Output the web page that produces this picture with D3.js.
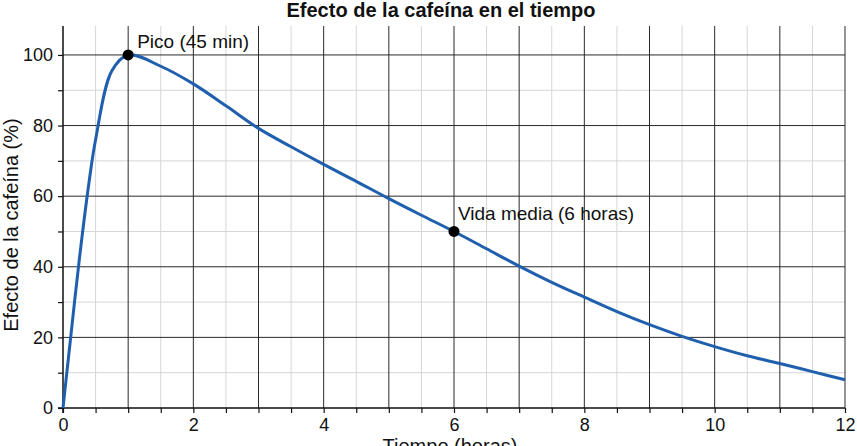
<!DOCTYPE html>
<html>
<head>
<meta charset="utf-8">
<script src="https://cdn.jsdelivr.net/npm/d3@7"></script>
<style>
  body { margin: 0; background: #fff; }
  text { font-family: "Liberation Sans", Arial, sans-serif; fill: #111; }
</style>
</head>
<body>
<svg id="chart" width="857" height="446"></svg>
<script>
// values
const hours  = [0, 0.1, 0.25, 0.4, 0.5, 0.75, 1, 1.5, 2, 2.5, 3, 3.5, 4, 4.5, 5, 5.5, 6, 6.5, 7, 7.5, 8, 8.5, 9, 9.5, 10, 10.5, 11, 11.5, 12];
const effect = [0, 17, 42, 64, 76, 95.5, 100, 96.8, 91.8, 85.6, 79.2, 74, 69, 64.2, 59.3, 54.6, 50, 45.1, 40.2, 35.6, 31.4, 27.3, 23.6, 20.3, 17.4, 14.8, 12.6, 10.3, 8];

const markerX = [1, 6];
const markerY = [100, 50];
const markerText = ["Pico (45 min)", "Vida media (6 horas)"];

const xTickLabels = [0, 2, 4, 6, 8, 10, 12];
const yTickLabels = [0, 20, 40, 60, 80, 100];

const title = "Efecto de la cafeína en el tiempo";
const xTitle = "Tiempo (horas)";
const yTitle = "Efecto de la cafeína (%)";

const svg = d3.select("#chart");
const plotLeft = 63, plotRight = 845, plotTop = 26, plotBottom = 408;

const x = d3.scaleLinear().domain([0, 12]).range([plotLeft, plotRight]);
const y = d3.scaleLinear().domain([0, 108.2]).range([plotBottom, plotTop]);

// minor grid
const minorX = d3.range(0.5, 12, 1);
const minorY = d3.range(10, 108, 20);
svg.append("g").selectAll("line").data(minorX).enter().append("line")
    .attr("x1", d => x(d)).attr("x2", d => x(d))
    .attr("y1", plotTop).attr("y2", plotBottom)
    .attr("stroke", "#d6d6d6").attr("stroke-width", 1);
svg.append("g").selectAll("line").data(minorY).enter().append("line")
    .attr("x1", plotLeft).attr("x2", plotRight)
    .attr("y1", d => y(d)).attr("y2", d => y(d))
    .attr("stroke", "#d6d6d6").attr("stroke-width", 1);

// major grid
const majorX = d3.range(1, 13, 1);
const majorY = d3.range(20, 108, 20);
svg.append("g").selectAll("line").data(majorX).enter().append("line")
    .attr("x1", d => x(d)).attr("x2", d => x(d))
    .attr("y1", plotTop).attr("y2", plotBottom)
    .attr("stroke", "#2a2a2a").attr("stroke-width", 1);
svg.append("g").selectAll("line").data(majorY).enter().append("line")
    .attr("x1", plotLeft).attr("x2", plotRight)
    .attr("y1", d => y(d)).attr("y2", d => y(d))
    .attr("stroke", "#2a2a2a").attr("stroke-width", 1);

// axes
const xAxis = svg.append("g")
    .attr("transform", `translate(0,${plotBottom})`)
    .call(d3.axisBottom(x)
        .tickValues(d3.range(0, 12.01, 0.5))
        .tickSize(5)
        .tickPadding(5)
        .tickFormat(d => xTickLabels.includes(d) ? d : ""));
const yAxis = svg.append("g")
    .attr("transform", `translate(${plotLeft},0)`)
    .call(d3.axisLeft(y)
        .tickValues(d3.range(0, 101, 10))
        .tickSize(5)
        .tickPadding(5)
        .tickFormat(d => yTickLabels.includes(d) ? d : ""));

[xAxis, yAxis].forEach(g => {
    g.select(".domain").attr("stroke", "#111").attr("stroke-width", 1.5);
    g.selectAll(".tick line").attr("stroke", "#111").attr("stroke-width", 1.2);
    g.selectAll(".tick text")
        .attr("font-family", "Liberation Sans, Arial, sans-serif")
        .attr("font-size", 18).attr("fill", "#111");
});
yAxis.select(".domain").attr("d", `M-5,${plotBottom}H0V${plotTop}`);
xAxis.select(".domain").attr("d", `M${plotLeft},5V0H${plotRight}`);

// curve
const data = hours.map((h, i) => ({ x: h, y: effect[i] }));
const line = d3.line()
    .x(d => x(d.x))
    .y(d => y(d.y))
    .curve(d3.curveCatmullRom.alpha(0.5));

svg.append("path")
    .datum(data)
    .attr("fill", "none")
    .attr("stroke", "#1f5fae")
    .attr("stroke-width", 3)
    .attr("stroke-linejoin", "round")
    .attr("d", line);

// markers
const markers = markerX.map((m, i) => ({ x: m, y: markerY[i], t: markerText[i] }));
svg.selectAll("circle.mk").data(markers).enter().append("circle")
    .attr("class", "mk")
    .attr("cx", d => x(d.x)).attr("cy", d => y(d.y))
    .attr("r", 5.5).attr("fill", "#000");

const labelOffsets = [[9, -7], [4, -11]];
svg.selectAll("text.mk").data(markers).enter().append("text")
    .attr("class", "mk")
    .attr("x", (d, i) => x(d.x) + labelOffsets[i][0])
    .attr("y", (d, i) => y(d.y) + labelOffsets[i][1])
    .attr("font-size", 19)
    .text(d => d.t);

// titles
svg.append("text")
    .attr("x", 441).attr("y", 17)
    .attr("text-anchor", "middle")
    .attr("font-size", 20).attr("font-weight", "bold")
    .text(title);

svg.append("text")
    .attr("x", 450).attr("y", 453)
    .attr("text-anchor", "middle")
    .attr("font-size", 20)
    .text(xTitle);

svg.append("text")
    .attr("transform", "translate(18,225) rotate(-90)")
    .attr("text-anchor", "middle")
    .attr("font-size", 20)
    .text(yTitle);
</script>
</body>
</html>
